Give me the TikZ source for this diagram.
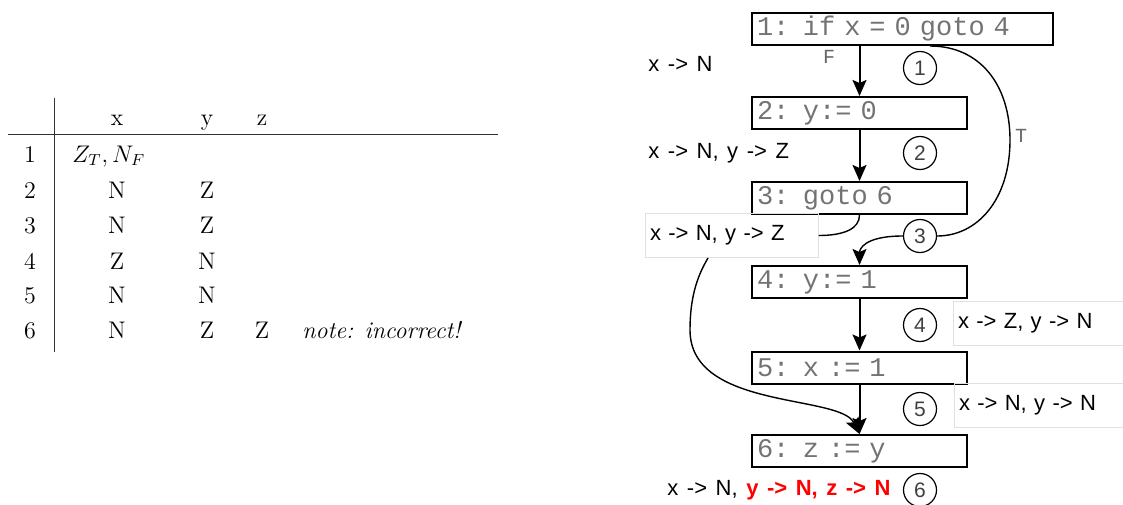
\documentclass[tikz,border=0pt]{standalone}
\usepackage{fontspec}
\usetikzlibrary{arrows.meta,calc,positioning}
\newfontfamily\monofam{Liberation Mono}
\newfontfamily\sansfam{Liberation Sans}[WordSpace={1.4,0,0}]
\newcommand\tabfont{\fontsize{12}{14}\selectfont}
\newcommand\codefont{\monofam\fontsize{13.5}{15}\selectfont
  \fontdimen2\font=0.6em\fontdimen3\font=0pt\fontdimen4\font=0pt}
\newcommand\lblfont{\sansfam\fontsize{11}{13}\selectfont}
\newcommand\cnumfont{\sansfam\fontsize{10.5}{12}\selectfont}
\newcommand\edgefont{\monofam\fontsize{10}{12}\selectfont}

\begin{document}
\begin{tikzpicture}[x=0.5pt,y=-0.5pt,
  cell/.style={font=\tabfont,inner sep=0pt,anchor=base},
  codebox/.style={draw,line width=1pt,minimum height=16pt,inner xsep=2.5pt,inner ysep=0pt,align=left,font=\codefont,text=black!55},
  lbox/.style={draw=black!12,line width=0.5pt,minimum height=22pt,inner xsep=2.5pt,align=left,font=\lblfont},
  state/.style={font=\lblfont,inner sep=0pt,anchor=west},
  pnum/.style={circle,draw,line width=0.6pt,minimum size=16.5pt,inner sep=0pt,font=\cnumfont,text=black!75},
  flow/.style={line width=1pt,-{Stealth[length=8pt,width=7pt,inset=1.5pt]}},
  branch/.style={font=\edgefont,text=black!60,inner sep=0pt}]
  \useasboundingbox (0,0) rectangle (1123,504);
  % table of abstract values
  \draw[line width=0.5pt,black!80] (54,98) -- (54,352);
  \draw[line width=0.5pt,black!80] (8,134) -- (498,134);
  \node[cell] (hx) at (117,125) {x};
  \node[cell] (hy) at (207,125) {y};
  \node[cell] (hz) at (262,125) {z};
  \node[cell] (n1) at (30,162) {1};
  \node[cell,anchor=base west] (v1) at (72,162) {$Z_T, N_F$};
  \node[cell] (n2) at (30,198) {2};
  \node[cell] (x2) at (117,198) {N};
  \node[cell] (y2) at (207,198) {Z};
  \node[cell] (n3) at (30,233) {3};
  \node[cell] (x3) at (117,233) {N};
  \node[cell] (y3) at (207,233) {Z};
  \node[cell] (n4) at (30,269) {4};
  \node[cell] (x4) at (117,269) {Z};
  \node[cell] (y4) at (207,269) {N};
  \node[cell] (n5) at (30,303) {5};
  \node[cell] (x5) at (117,303) {N};
  \node[cell] (y5) at (207,303) {N};
  \node[cell] (n6) at (30,338) {6};
  \node[cell] (x6) at (117,338) {N};
  \node[cell] (y6) at (207,338) {Z};
  \node[cell] (z6) at (262,338) {Z};
  \node[cell,anchor=base west] (note) at (302,338) {\itshape note: incorrect!};
  % flow graph
  \node[codebox,text width=145.5pt] (b1) at (902.5,29) {1: if x = 0 goto 4};
  \node[codebox,text width=102.5pt] (b2) at (859.5,113) {2: y:= 0};
  \node[codebox,text width=102.5pt] (b3) at (859.5,198) {3: goto 6};
  \node[codebox,text width=102.5pt] (b4) at (859.5,282) {4: y:= 1};
  \node[codebox,text width=102.5pt] (b5) at (859.5,367.5) {5: x := 1};
  \node[codebox,text width=102.5pt] (b6) at (859.5,451) {6: z := y};
  \node[pnum] (c1) at (920,68) {1};
  \node[pnum] (c2) at (920,153) {2};
  \node[pnum] (c3) at (920,236) {3};
  \node[pnum] (c4) at (920,325) {4};
  \node[pnum] (c5) at (920,409) {5};
  \node[pnum] (c6) at (920,490) {6};
  \node[state] (s1) at (648,64) {x -> N};
  \node[state] (s2) at (648,153) {x -> N, y -> Z};
  \node[lbox,text width=81.5pt] (s3) at (731.5,235.5) {x -> N, y -> Z};
  \node[lbox,text width=88.5pt] (s4) at (1046.5,323.5) {x -> Z, y -> N};
  \node[lbox,text width=88.5pt] (s5) at (1047.5,405) {x -> N, y -> N};
  \node[state] (s6) at (667,490) {x -> N, \textcolor{red}{\bfseries y -> N, z -> N}};
  \node[branch] (lf) at (829,57) {F};
  \node[branch] (lt) at (1021,136) {T};
  \coordinate (tmid) at (1010,140);
  \coordinate (dip) at (690,330);
  % edges
  \draw[flow] (b1.south -| b2.north) -- (b2.north);
  \draw[flow] (b2.south) -- (b3.north);
  \draw[flow] (b4.south) -- (b5.north);
  \draw[flow] (b5.south) -- (b6.north);
  \draw[line width=0.7pt] (b3.south) .. controls +(0,14) and +(25,0) .. (s3.east);
  \draw[flow,line width=0.7pt] ($(s3.south)+(-23.5,0)$) .. controls +(-12,20) and +(0,-30) .. (dip)
    .. controls +(0,80) and +(-20,-40) .. (b6.north);
  \draw[line width=0.7pt] ($(b1.south)+(27.5,0)$) .. controls +(50,0) and +(0,-55) .. (tmid)
    .. controls +(0,60) and +(40,0) .. (c3.east);
  \draw[flow,line width=0.7pt] (c3.west) .. controls +(-40,0) and +(0,-15) .. (b4.north);
\end{tikzpicture}
\end{document}
